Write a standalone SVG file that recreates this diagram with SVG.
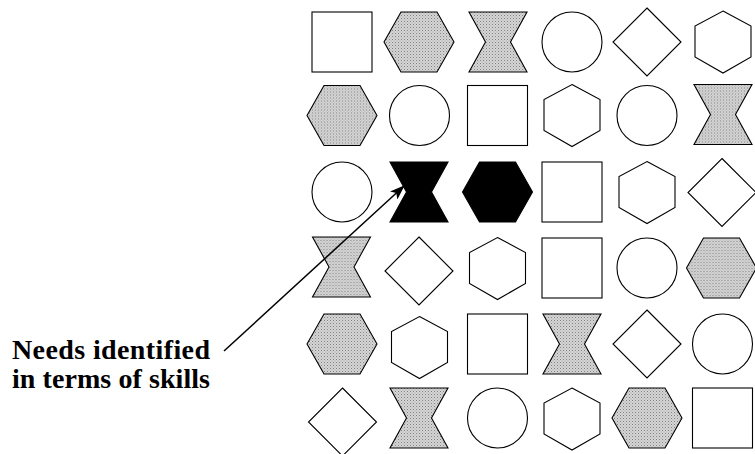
<svg xmlns="http://www.w3.org/2000/svg" xmlns:xlink="http://www.w3.org/1999/xlink" width="755" height="454" viewBox="0 0 755 454">
  <defs>
    <pattern id="stipple" width="3" height="3" patternUnits="userSpaceOnUse">
      <rect width="3" height="3" fill="#d6d6d6"/>
      <rect x="0" y="0" width="1" height="1" fill="#808080"/>
      <rect x="1.5" y="1.5" width="1" height="1" fill="#a0a0a0"/>
    </pattern>
    <marker id="arrow" markerWidth="15" markerHeight="11" refX="14" refY="5.5" orient="auto" markerUnits="userSpaceOnUse">
      <path d="M0,0 L15,5.5 L0,11 L3.5,5.5 Z" fill="#000"/>
    </marker>
    <rect id="square" x="-30" y="-30" width="60" height="60"/>
    <circle id="circle" cx="0" cy="0" r="30"/>
    <polygon id="diamond" points="0,-34 34,0 0,34 -34,0"/>
    <polygon id="hexflat" points="-35,0 -18,-30 18,-30 35,0 18,30 -18,30"/>
    <polygon id="hexpointy" points="0,-31 28,-16 28,15 0,31 -28,15 -28,-16"/>
    <polygon id="hourglass" points="-29,-30 29,-30 12.5,0 29,30 -29,30 -12.5,0"/>
  </defs>
  <style>
    .plain { fill: #fff; stroke: #000; stroke-width: 1.1; }
    .shaded { fill: url(#stipple); stroke: #000; stroke-width: 1.1; }
    .solid { fill: #000; stroke: #000; stroke-width: 1.1; }
    .label { font-family: "Liberation Serif", "Times New Roman", serif; font-weight: bold; font-size: 28px; fill: #000; }
    .conn { fill: none; stroke: #000; stroke-width: 1.5; }
  </style>
  <rect width="755" height="454" fill="#fff"/>

  <!-- Row 1 -->
  <g id="r1c1"><use href="#square" class="plain" x="342" y="42"/></g>
  <g id="r1c2"><use href="#hexflat" class="shaded" x="419" y="42"/></g>
  <g id="r1c3"><use href="#hourglass" class="shaded" x="498" y="42"/></g>
  <g id="r1c4"><use href="#circle" class="plain" x="572" y="42"/></g>
  <g id="r1c5"><use href="#diamond" class="plain" x="647" y="42"/></g>
  <g id="r1c6"><use href="#hexpointy" class="plain" x="723" y="42"/></g>

  <!-- Row 2 -->
  <g id="r2c1"><use href="#hexflat" class="shaded" x="342" y="115.5"/></g>
  <g id="r2c2"><use href="#circle" class="plain" x="419.5" y="115.5"/></g>
  <g id="r2c3"><use href="#square" class="plain" x="497.5" y="115.5"/></g>
  <g id="r2c4"><use href="#hexpointy" class="plain" x="572" y="115.5"/></g>
  <g id="r2c5"><use href="#circle" class="plain" x="647" y="115.5"/></g>
  <g id="r2c6"><use href="#hourglass" class="shaded" x="723" y="114.5"/></g>

  <!-- Row 3 -->
  <g id="r3c1"><use href="#circle" class="plain" x="342" y="192"/></g>
  <g id="r3c2"><use href="#hourglass" class="solid" x="419" y="192"/></g>
  <g id="r3c3"><use href="#hexflat" class="solid" x="497.5" y="192"/></g>
  <g id="r3c4"><use href="#square" class="plain" x="572" y="192"/></g>
  <g id="r3c5"><use href="#hexpointy" class="plain" x="647" y="192.5"/></g>
  <g id="r3c6"><use href="#diamond" class="plain" x="722" y="192.5"/></g>

  <!-- Row 4 -->
  <g id="r4c1"><use href="#hourglass" class="shaded" x="341.5" y="267"/></g>
  <g id="r4c2"><use href="#diamond" class="plain" x="419" y="271"/></g>
  <g id="r4c3"><use href="#hexpointy" class="plain" x="497.5" y="268.5"/></g>
  <g id="r4c4"><use href="#square" class="plain" x="572" y="268"/></g>
  <g id="r4c5"><use href="#circle" class="plain" x="647" y="268"/></g>
  <g id="r4c6"><use href="#hexflat" class="shaded" x="721.5" y="268"/></g>

  <!-- Row 5 -->
  <g id="r5c1"><use href="#hexflat" class="shaded" x="342" y="344"/></g>
  <g id="r5c2"><use href="#hexpointy" class="plain" x="419.5" y="347.5"/></g>
  <g id="r5c3"><use href="#square" class="plain" x="497.5" y="344"/></g>
  <g id="r5c4"><use href="#hourglass" class="shaded" x="572" y="344"/></g>
  <g id="r5c5"><use href="#diamond" class="plain" x="647" y="344"/></g>
  <g id="r5c6"><use href="#circle" class="plain" x="722.5" y="344"/></g>

  <!-- Row 6 -->
  <g id="r6c1"><use href="#diamond" class="plain" x="342.5" y="422"/></g>
  <g id="r6c2"><use href="#hourglass" class="shaded" x="419" y="418"/></g>
  <g id="r6c3"><use href="#circle" class="plain" x="497.5" y="418"/></g>
  <g id="r6c4"><use href="#hexpointy" class="plain" x="572" y="419"/></g>
  <g id="r6c5"><use href="#hexflat" class="shaded" x="647" y="418"/></g>
  <g id="r6c6"><use href="#square" class="plain" x="722.5" y="418"/></g>

  <!-- Label -->
  <g id="label">
    <text class="label" x="12" y="359" textLength="198" lengthAdjust="spacing">Needs identified</text>
    <text class="label" x="12" y="388" textLength="198" lengthAdjust="spacing">in terms of skills</text>
  </g>

  <!-- Connectors -->
  <g id="connectors">
    <line class="conn" x1="224" y1="351" x2="404" y2="186" marker-end="url(#arrow)"/>
  </g>
</svg>
